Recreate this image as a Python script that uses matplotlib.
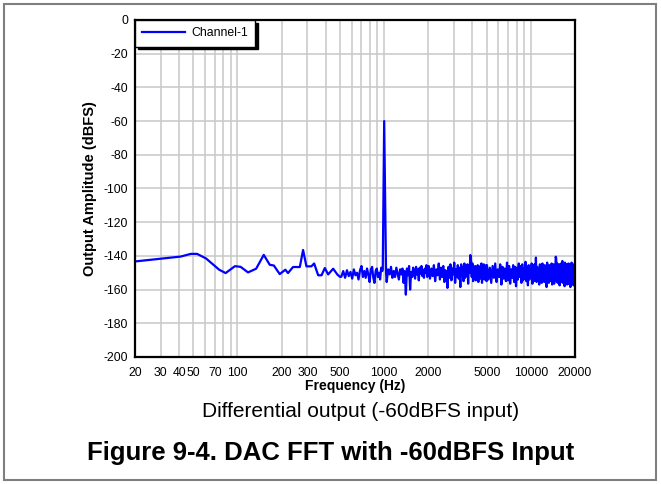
import numpy as np
import matplotlib
matplotlib.use('Agg')
import matplotlib.pyplot as plt
from matplotlib.ticker import FixedLocator, LogLocator, NullFormatter
from matplotlib.patches import Rectangle

plt.rcParams['font.family'] = ['Liberation Sans', 'DejaVu Sans']

# low frequency part, read point by point (Hz, dBFS)
lo_f = [20, 41, 48, 53, 61, 75, 83, 96, 105, 118, 134, 151, 166, 177, 194, 212,
        221, 239, 266, 280, 295, 319, 333, 355, 374, 394, 415, 449, 479, 499]
lo_db = [-143.3, -140.4, -138.8, -138.8, -141.5, -148.2, -150.2, -146.1, -146.5,
         -149.8, -147.6, -139.4, -145.3, -145.7, -150.8, -148.2, -150.2, -146.6,
         -146.6, -136.5, -146.2, -146.2, -144.5, -151.5, -151.5, -147.2, -151.0,
         -147.6, -151.0, -152.4]

# 510..970 Hz noise
mid_db = [-152.4, -149.0, -153.0, -148.5, -152.0, -149.5, -153.5, -148.0, -151.5, -150.0,
          -154.0, -148.5, -146.0, -152.5, -149.0, -153.0, -147.5, -151.0, -155.5, -148.0,
          -146.5, -153.0, -156.0, -149.0, -147.5, -152.5, -150.0, -154.0, -147.0, -149.0]

# the 1 kHz tone
pk_f = [978, 1000, 1030]
pk_db = [-148.0, -60.0, -150.0]

# 1040..1990 Hz
seg_a = [-155.5, -148.0, -151.0, -146.5, -153.0, -149.0, -152.5, -147.0, -150.5, -154.0,
         -148.0, -151.0, -147.5, -156.0, -149.0, -163.0, -147.5, -151.5, -146.0, -160.0,
         -149.5, -152.5, -147.0, -150.0, -153.5, -146.5, -151.0, -148.0, -154.5, -147.0,
         -150.5, -146.0, -152.0, -148.5, -153.0, -147.5, -150.0, -145.5, -152.5, -148.0]

# 2010..4990 Hz
seg_b = [-146.0, -153.5, -147.5, -152.0, -145.5, -155.0, -148.0, -151.5, -144.5, -154.0,
         -147.0, -152.5, -146.0, -155.5, -148.5, -150.5, -159.0, -146.5, -153.0, -145.0,
         -154.5, -147.5, -151.0, -144.0, -156.0, -148.0, -152.5, -145.5, -153.5, -147.0,
         -158.5, -145.0, -152.0, -146.5, -155.0, -144.5, -153.0, -147.5, -151.5, -145.0,
         -156.5, -146.0, -150.0, -139.5, -143.0, -152.5, -144.5, -155.0, -147.0, -153.0,
         -146.0, -154.5, -148.0, -151.0, -145.5, -155.5, -147.5, -152.0, -146.0, -153.5,
         -144.5, -156.0, -148.0, -151.5, -145.0, -154.0, -147.0, -152.5, -145.5, -155.0]

# 5020..20000 Hz
seg_c = [-145.5, -154.0, -147.0, -156.0, -146.0, -153.0, -144.5, -155.5, -148.0, -152.5,
         -145.0, -157.0, -146.5, -153.5, -147.5, -155.0, -144.0, -154.5, -146.0, -156.5,
         -148.0, -153.0, -145.5, -155.5, -146.5, -158.0, -147.0, -154.0, -144.5, -152.5,
         -146.0, -156.0, -145.0, -154.5, -147.5, -153.5, -143.5, -155.0, -146.5, -157.5,
         -145.5, -154.0, -147.0, -153.0, -144.5, -156.5, -146.0, -155.0, -145.0, -153.5,
         -141.0, -155.5, -146.5, -154.0, -147.5, -157.0, -145.0, -153.0, -146.0, -156.0,
         -144.5, -154.5, -147.0, -155.5, -145.5, -153.0, -146.5, -158.5, -144.0, -154.0,
         -147.0, -156.0, -145.5, -153.5, -146.0, -155.0, -144.5, -157.0, -147.5, -154.5,
         -145.0, -156.5, -146.0, -153.0, -140.5, -141.5, -155.0, -144.5, -156.0, -146.5,
         -154.0, -145.0, -157.5, -147.0, -153.5, -144.5, -155.5, -146.0, -143.0, -156.0,
         -145.5, -154.5, -147.0, -158.0, -144.0, -153.0, -146.5, -155.5, -145.0, -157.0,
         -146.0, -154.0, -144.5, -156.5, -147.5, -153.5, -145.0, -158.5, -146.0, -155.0,
         -144.0, -156.0, -147.0, -154.5, -145.5, -157.5, -146.0, -155.0, -144.5, -153.0]

xticks = [20, 30, 40, 50, 70, 100, 200, 300, 500, 1000, 2000, 5000, 10000, 20000]
yticks = list(range(-200, 1, 20))

# FFT bin grid for each noise segment
freq = np.concatenate([lo_f,
                       np.linspace(510, 970, len(mid_db)),
                       pk_f,
                       np.linspace(1040, 1990, len(seg_a)),
                       np.linspace(2010, 4990, len(seg_b)),
                       np.linspace(5020, 20000, len(seg_c))])
amp = np.concatenate([lo_db, mid_db, pk_db, seg_a, seg_b, seg_c])

fig = plt.figure(figsize=(6.61, 4.84), dpi=100)
fig.patches.append(Rectangle((0.006, 0.008), 0.987, 0.984, transform=fig.transFigure,
                             fill=False, edgecolor='#7f7f7f', linewidth=1.5))
ax = fig.add_axes([0.2042, 0.2624, 0.6657, 0.6963])

ax.plot(freq, amp, color='#0000ff', linewidth=1.6, label='Channel-1')

ax.set_xscale('log')
ax.set_xlim(20, 20000)
ax.set_ylim(-200, 0)
ax.xaxis.set_major_locator(FixedLocator(xticks))
ax.set_xticklabels([str(t) for t in xticks])
ax.xaxis.set_minor_locator(LogLocator(base=10, subs=np.arange(1, 10)))
ax.xaxis.set_minor_formatter(NullFormatter())
ax.set_yticks(yticks)
ax.set_yticklabels([str(t) for t in yticks])
ax.tick_params(axis='both', which='both', length=0, labelsize=8.8, colors='black')
ax.tick_params(axis='x', pad=7)
ax.tick_params(axis='y', pad=5)

ax.grid(True, which='major', color='#c8c8c8', linewidth=1.1)
ax.grid(True, which='minor', axis='x', color='#c8c8c8', linewidth=1.1)
ax.set_axisbelow(True)
for s in ax.spines.values():
    s.set_linewidth(1.6)
    s.set_color('black')

ax.set_xlabel('Frequency (Hz)', fontsize=10, fontweight='bold', labelpad=0)
ax.set_ylabel('Output Amplitude (dBFS)', fontsize=10.5, fontweight='bold', labelpad=5)

leg = ax.legend(loc='upper left', bbox_to_anchor=(0, 1), borderaxespad=0,
                fontsize=8.8, handlelength=3.5, handletextpad=0.5, fancybox=False,
                shadow={'color': 'black', 'alpha': 1.0}, framealpha=1, borderpad=0.6)
leg.get_frame().set_edgecolor('black')
leg.get_frame().set_linewidth(1.0)

fig.text(0.545, 0.150, 'Differential output (-60dBFS input)', fontsize=15,
         ha='center', va='center')
fig.text(0.500, 0.064, 'Figure 9-4. DAC FFT with -60dBFS Input', fontsize=18.5,
         fontweight='bold', ha='center', va='center')

fig.savefig('out.png', dpi=100)
